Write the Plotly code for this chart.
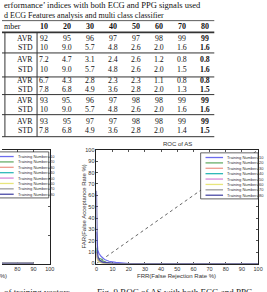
import plotly.graph_objects as go

W, H = 267, 292

# ---------------- table data ----------------
title_line1 = "erformance\u2019 indices with both ECG and PPG signals used"
title_line2 = "d ECG Features analysis and multi class classifier"
header_label = "mber"
training_numbers = ["10", "20", "30", "40", "50", "60", "70", "80"]
stat_labels = ["AVR", "STD"]
block1_avr = ["92", "95", "96", "97", "97", "98", "99", "99"]
block1_std = ["10", "9.0", "5.7", "4.8", "2.6", "2.0", "1.6", "1.6"]
block2_avr = ["7.2", "4.7", "3.1", "2.4", "2.6", "1.2", "0.8", "0.8"]
block2_std = ["10", "9.0", "5.7", "4.8", "2.6", "2.0", "1.5", "1.6"]
block3_avr = ["6.7", "4.3", "2.8", "2.3", "2.3", "1.1", "0.8", "0.8"]
block3_std = ["7.8", "6.8", "4.9", "3.6", "2.8", "2.0", "1.3", "1.5"]
block4_avr = ["93", "95.", "96", "97", "98", "98", "99", "99"]
block4_std = ["10", "9.0", "5.7", "4.8", "2.6", "2.0", "1.6", "1.6"]
block5_avr = ["93", "95", "97", "97", "98", "98", "99", "99"]
block5_std = ["7.8", "6.8", "4.9", "3.6", "2.8", "2.0", "1.4", "1.5"]

# ---------------- ROC data (right chart: ROC of AS) ----------------
series_names = ["Training Number=10", "Training Number=20", "Training Number=30",
                "Training Number=40", "Training Number=50", "Training Number=60",
                "Training Number=70", "Training Number=80"]
series_colors = ["#6c6cee", "#6aae6a", "#ee9a8c", "#30b8b8",
                 "#d68ad8", "#e8e67c", "#9c9c9c", "#4a4aa6"]

frr_10 = [0, 0.8, 1.5, 2.8, 5, 7.8, 12, 20, 100]
far_10 = [28, 12, 9, 6.4, 3.5, 2, 1, 0, 0]
frr_20 = [0, 0.5, 1.5, 3, 4, 6, 10, 100]
far_20 = [14, 6, 4.5, 4, 2.5, 1, 0, 0]
frr_30 = [0, 0.5, 1, 2, 4, 7, 100]
far_30 = [10, 5, 3, 1.5, 0.5, 0, 0]
frr_40 = [0, 0.4, 1, 2.5, 5, 8, 100]
far_40 = [12, 6, 3.5, 1.5, 0.4, 0, 0]
frr_50 = [0, 0.5, 1.2, 3, 6, 100]
far_50 = [9, 4, 2, 0.8, 0, 0]
frr_60 = [0, 0.5, 1.5, 3, 5, 100]
far_60 = [8, 3.5, 1.5, 0.5, 0, 0]
frr_70 = [0, 0.5, 1.5, 3, 6, 9, 100]
far_70 = [11, 5, 2.5, 1, 0.2, 0, 0]
frr_80 = [0, 0.2, 0.5, 1, 2, 4, 8, 12, 100]
far_80 = [64, 30, 12, 6, 3, 1.2, 0.3, 0, 0]
chance_frr = [0, 100]
chance_far = [0, 100]

# left chart (only its right end is inside the page)
left_frr = [0, 1, 3, 8, 20, 90]
left_far = [30, 10, 4, 1, 0, 0]

right_frr = [frr_10, frr_20, frr_30, frr_40, frr_50, frr_60, frr_70, frr_80]
right_far = [far_10, far_20, far_30, far_40, far_50, far_60, far_70, far_80]


def px(x):
    return x / W


def py(y):
    return 1 - y / H


fig = go.Figure()

# ---------------- traces ----------------
for i in range(8):
    fig.add_trace(go.Scatter(x=left_frr, y=left_far, mode="lines",
                             line=dict(color=series_colors[i], width=1.4),
                             xaxis="x", yaxis="y", cliponaxis=False,
                             name=series_names[i], showlegend=False))

fig.add_trace(go.Scatter(x=chance_frr, y=chance_far, mode="lines",
                         line=dict(color="#555555", width=0.9, dash="dot"),
                         xaxis="x2", yaxis="y2", showlegend=False))
for i in range(8):
    fig.add_trace(go.Scatter(x=right_frr[i], y=right_far[i], mode="lines",
                             line=dict(color=series_colors[i], width=1.2),
                             xaxis="x2", yaxis="y2", cliponaxis=False,
                             name=series_names[i], showlegend=False))

# ---------------- axes ----------------
plot_y_dom = [py(266), py(150)]
tickfont = dict(family="Liberation Sans", size=5.5, color="#333333")
scale = 166 / 100.0  # px per unit

common = dict(showgrid=False, zeroline=False, showline=True, linecolor="#222222",
              linewidth=0.8, ticks="inside", ticklen=2, tickcolor="#555555",
              tickwidth=0.6, tickfont=tickfont, layer="below traces")

fig.update_layout(
    width=W, height=H, margin=dict(l=0, r=0, t=0, b=0),
    paper_bgcolor="white", plot_bgcolor="white", showlegend=False,
    xaxis=dict(domain=[0, px(49)], range=[100 - 49 / scale, 100], dtick=10,
               tick0=0, mirror="ticks", anchor="y", **common),
    yaxis=dict(domain=plot_y_dom, range=[0, 100], dtick=25, side="right",
               showticklabels=False, anchor="x", mirror=False, **common),
    xaxis2=dict(domain=[px(97), px(263)], range=[0, 100], dtick=10,
                mirror="ticks", anchor="y2", **common),
    yaxis2=dict(domain=plot_y_dom, range=[0, 100], dtick=10,
                mirror="ticks", anchor="x2", **common),
)

ann = []
shapes = []
serif = "Liberation Serif"

# ---------------- table ----------------
ann.append(dict(x=px(0), y=py(2.5), xref="paper", yref="paper", text=title_line1,
                xanchor="left", yanchor="middle", showarrow=False,
                font=dict(family=serif, size=8.5, color="#111")))
ann.append(dict(x=px(0), y=py(13.2), xref="paper", yref="paper", text=title_line2,
                xanchor="left", yanchor="middle", showarrow=False,
                font=dict(family=serif, size=8.0, color="#111")))

col_x0, col_dx = 43.0, 23.6
col_x = [col_x0 + col_dx * i for i in range(len(training_numbers))]
ann.append(dict(x=px(0), y=py(24.5), xref="paper", yref="paper", text=header_label,
                xanchor="left", yanchor="middle", showarrow=False,
                font=dict(family=serif, size=8, color="#111")))
for c, t in enumerate(training_numbers):
    ann.append(dict(x=px(col_x[c]), y=py(24.5), xref="paper", yref="paper",
                    text="<b>" + t + "</b>", xanchor="center", yanchor="middle",
                    showarrow=False, font=dict(family=serif, size=8, color="#111")))

rows = [block1_avr, block1_std, block2_avr, block2_std, block3_avr,
        block3_std, block4_avr, block4_std, block5_avr, block5_std]
row_y = [36.0, 45.0, 57.5, 67.5, 79.5, 88.5, 99.5, 109.0, 120.5, 130.5]
for r, vals in enumerate(rows):
    ann.append(dict(x=px(24), y=py(row_y[r]), xref="paper", yref="paper",
                    text=stat_labels[r % 2], xanchor="center", yanchor="middle",
                    showarrow=False, font=dict(family=serif, size=7.8, color="#111")))
    for c, v in enumerate(vals):
        txt = "<b>" + v + "</b>" if c == len(vals) - 1 else v
        ann.append(dict(x=px(col_x[c]), y=py(row_y[r]), xref="paper", yref="paper",
                        text=txt, xanchor="center", yanchor="middle", showarrow=False,
                        font=dict(family=serif, size=7.8, color="#111")))

tbl_right = 218


def hline(y, w=0.9):
    shapes.append(dict(type="line", xref="paper", yref="paper", x0=px(0), x1=px(tbl_right),
                       y0=py(y), y1=py(y), line=dict(color="#333", width=w)))


hline(18.0, 0.8)
hline(30.0, 1.7)
for yl in [51.0, 75.5, 93.5, 114.0, 136.5]:
    hline(yl, 1.0)
for xv in [3.0, 36.0]:
    shapes.append(dict(type="line", xref="paper", yref="paper", x0=px(xv), x1=px(xv),
                       y0=py(30.0), y1=py(136.5), line=dict(color="#333", width=1.0)))

# ---------------- chart texts ----------------
small = dict(family="Liberation Sans", size=6, color="#333")
ann.append(dict(x=px(180), y=py(144), xref="paper", yref="paper", text="ROC of AS",
                xanchor="center", yanchor="middle", showarrow=False, font=small))
ann.append(dict(x=px(179), y=py(278.5), xref="paper", yref="paper",
                text="FRR(False Rejection Rate %)", xanchor="center", yanchor="middle",
                showarrow=False, font=small))
ann.append(dict(x=px(84), y=py(208), xref="paper", yref="paper",
                text="FAR(False Acceptance Rate %)", textangle=-90, xanchor="center",
                yanchor="middle", showarrow=False, font=small))
ann.append(dict(x=px(7), y=py(278.5), xref="paper", yref="paper",
                text="FRR(False Rejection Rate %)", xanchor="right", yanchor="middle",
                showarrow=False, font=small))


# ---------------- legends (drawn as boxes) ----------------
def legend_box(x0, x1, y0, y1):
    shapes.append(dict(type="rect", xref="paper", yref="paper", x0=px(x0), x1=px(x1),
                       y0=py(y1), y1=py(y0), fillcolor="white",
                       line=dict(color="#222", width=0.7), layer="above"))
    step = (y1 - y0 - 3) / len(series_names)
    for i, nm in enumerate(series_names):
        yy = y0 + 2 + step * (i + 0.5)
        shapes.append(dict(type="line", xref="paper", yref="paper", x0=px(x0 + 5),
                           x1=px(x0 + 23), y0=py(yy), y1=py(yy),
                           line=dict(color=series_colors[i], width=1.3), layer="above"))
        ann.append(dict(x=px(x0 + 25), y=py(yy), xref="paper", yref="paper", text=nm,
                        xanchor="left", yanchor="middle", showarrow=False,
                        font=dict(family="Liberation Sans", size=4, color="#333")))


legend_box(-11, 48, 152, 199)
legend_box(204, 263, 153, 200)

# ---------------- caption (cut at the bottom) ----------------
cap = dict(family=serif, size=9, color="#222")
ann.append(dict(x=px(0), y=py(295.5), xref="paper", yref="paper",
                text="of training vectors", xanchor="left",
                yanchor="middle", showarrow=False, font=cap))
ann.append(dict(x=px(95), y=py(295.5), xref="paper", yref="paper",
                text="Fig. 9 ROC of AS with both ECG and PPG", xanchor="left",
                yanchor="middle", showarrow=False, font=cap))

fig.update_layout(annotations=ann, shapes=shapes)
fig.write_html("out.html")
